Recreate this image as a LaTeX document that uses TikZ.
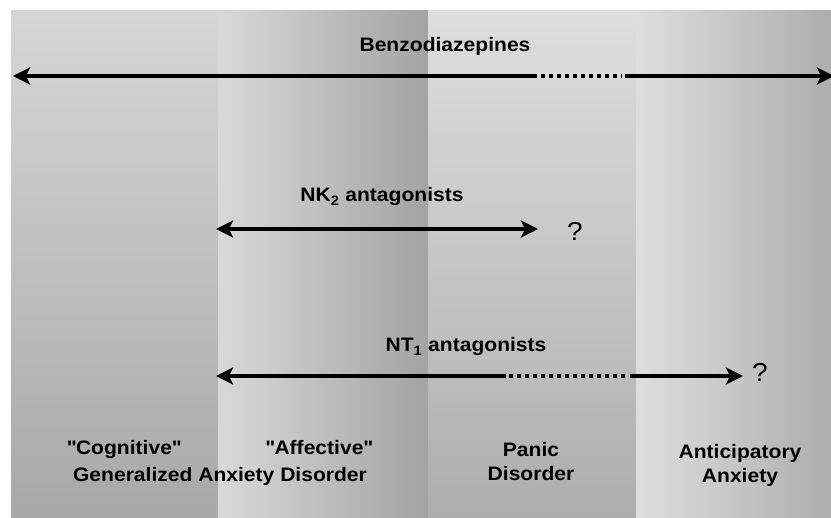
\documentclass[tikz,border=0pt]{standalone}
\usepackage{fontspec}
\setmainfont{Liberation Sans}[FakeStretch=1.08]
\usetikzlibrary{arrows.meta}

\definecolor{bandA top}{gray}{0.84}
\definecolor{bandA bottom}{gray}{0.66}
\definecolor{bandB left}{gray}{0.85}
\definecolor{bandB right}{gray}{0.64}
\definecolor{bandC top}{gray}{0.87}
\definecolor{bandC bottom}{gray}{0.68}
\definecolor{bandD left}{gray}{0.87}
\definecolor{bandD right}{gray}{0.68}

\begin{document}
\begin{tikzpicture}[
            x=1pt, y=-1pt,
            >={Stealth[length=17pt, width=17pt, inset=4pt]},
            bar/.style={line width=4.5pt},
            dotbar/.style={line width=4.5pt, dash pattern=on 4pt off 4pt},
            lbl/.style={font=\bfseries\fontsize{19.5}{24}\selectfont, align=center, inner sep=0pt},
            qmark/.style={font=\fontsize{26}{28}\selectfont, inner sep=0pt}
        ]
            \useasboundingbox (0,0) rectangle (831,518);
            \fill[white] (0,0) rectangle (831,518);

            \shade[top color=bandA top, bottom color=bandA bottom] (11,11) rectangle (218,518);
            \shade[left color=bandB left, right color=bandB right] (218,11) rectangle (428,518);
            \shade[top color=bandC top, bottom color=bandC bottom] (428,11) rectangle (636,518);
            \shade[left color=bandD left, right color=bandD right] (636,11) rectangle (831,518);

            \node[lbl, anchor=base] (benzo) at (445,52) {Benzodiazepines};
            \coordinate (bzL) at (13,76);
            \coordinate (bzA) at (537,76);
            \coordinate (bzB) at (625,76);
            \coordinate (bzR) at (834,76);
            \draw[bar, <-] (bzL) -- (bzA);
            \draw[dotbar] ([xshift=4pt]bzA) -- ([xshift=-3pt]bzB);
            \draw[bar, ->] (bzB) -- (bzR);

            \node[lbl, anchor=base] (nk) at (382,202) {NK\textsubscript{2} antagonists};
            \coordinate (nkL) at (216,229);
            \coordinate (nkR) at (538,229);
            \draw[bar, <->] (nkL) -- (nkR);
            \node[qmark] (nkq) at (575,231) {?};

            \node[lbl, anchor=base] (nt) at (466,352) {NT\textsubscript{1} antagonists};
            \coordinate (ntL) at (216,376);
            \coordinate (ntA) at (506,376);
            \coordinate (ntB) at (630,376);
            \coordinate (ntR) at (743,376);
            \draw[bar, <-] (ntL) -- (ntA);
            \draw[dotbar] ([xshift=3pt]ntA) -- ([xshift=-2pt]ntB);
            \draw[bar, ->] (ntB) -- (ntR);
            \node[qmark] (ntq) at (760,372) {?};

            \node[lbl, anchor=base] (cog) at (124,455) {\textquotedbl Cognitive\textquotedbl};
            \node[lbl, anchor=base] (aff) at (319,455) {\textquotedbl Affective\textquotedbl};
            \node[lbl, anchor=base] (gad) at (220,482) {Generalized Anxiety Disorder};
            \node[lbl] (panic) at (531,462) {Panic\\Disorder};
            \node[lbl] (antic) at (740,465) {Anticipatory\\Anxiety};

        \end{tikzpicture}
\end{document}
